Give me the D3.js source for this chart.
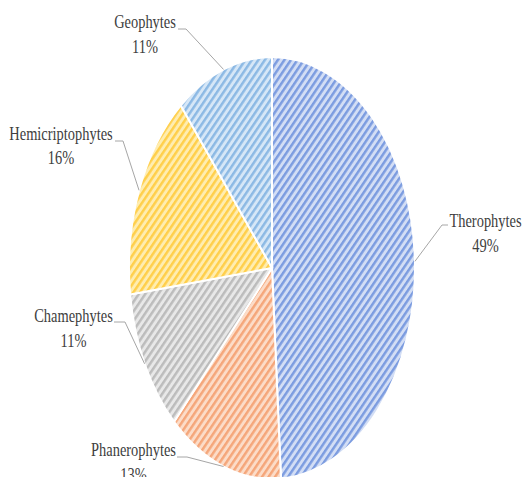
<!DOCTYPE html>
<html>
<head>
<meta charset="utf-8">
<script src="https://cdn.jsdelivr.net/npm/d3@7"></script>
<style>
  html, body { margin: 0; padding: 0; background: #fff; }
  svg { display: block; }
</style>
</head>
<body>
<svg id="chart" width="522" height="477"></svg>
<script>
// ---- data ----
const categories = ["Therophytes", "Phanerophytes", "Chamephytes", "Hemicriptophytes", "Geophytes"];
const values = [49, 13, 11, 16, 11];
const labels = ["49%", "13%", "11%", "16%", "11%"];
const stripeColors = ["#7c9ce0", "#f5a67a", "#bcbcbc", "#ffcf4a", "#8cb9e4"];
const bgColors = ["#d3def5", "#fcdcc8", "#e8e8e8", "#ffedb0", "#d6e7f7"];

// ---- layout ----
const W = 522, H = 477;
const cx = 272, cy = 268, rx = 143, ry = 211;
// label anchor (center x, first baseline) and elbow x of leader
const labelPos = [
  { x: 485.5, y: 227, elbow: 442, lineStart: 448, lineY: 225 },
  { x: 133.5, y: 456, elbow: 187, lineStart: 177, lineY: 457 },
  { x: 73.5,  y: 322, elbow: 125, lineStart: 114, lineY: 322 },
  { x: 61,    y: 139.5, elbow: 123, lineStart: 115, lineY: 141 },
  { x: 145,   y: 28,  elbow: 186, lineStart: 178, lineY: 29 }
];

const svg = d3.select("#chart");
const defs = svg.append("defs");
const sy = ry / rx;

categories.forEach((c, i) => {
  const p = defs.append("pattern")
    .attr("id", "pat" + i)
    .attr("patternUnits", "userSpaceOnUse")
    .attr("width", 4.6).attr("height", 4.6)
    .attr("patternTransform", "rotate(45)");
  p.append("rect").attr("width", 4.6).attr("height", 4.6).attr("fill", bgColors[i]);
  p.append("rect").attr("width", 2.1).attr("height", 4.6).attr("fill", stripeColors[i]);
});

const pie = d3.pie().sort(null).value(d => d)(values);
const arc = d3.arc().innerRadius(0).outerRadius(rx);

const g = svg.append("g").attr("transform", `translate(${cx},${cy}) scale(1,${sy})`);
g.selectAll("path").data(pie).join("path")
  .attr("d", arc)
  .attr("fill", (d, i) => `url(#pat${i})`)
  .attr("stroke", "#fff")
  .attr("stroke-width", 2)
  .attr("vector-effect", "non-scaling-stroke");

// leader lines
const lines = svg.append("g");
pie.forEach((d, i) => {
  const a = (d.startAngle + d.endAngle) / 2;
  const ex = cx + rx * Math.sin(a);
  const ey = cy - ry * Math.cos(a);
  const L = labelPos[i];
  lines.append("polyline")
    .attr("points", `${L.lineStart},${L.lineY} ${L.elbow},${L.lineY} ${ex},${ey}`)
    .attr("fill", "none")
    .attr("stroke", "#a6a6a6")
    .attr("stroke-width", 1);
});

// labels
const lab = svg.append("g");
categories.forEach((c, i) => {
  const L = labelPos[i];
  const t = lab.append("g").attr("transform", `translate(${L.x},${L.y}) scale(0.76,1)`);
  t.append("text").attr("text-anchor", "middle")
    .attr("font-family", "'Liberation Serif', 'Times New Roman', serif")
    .attr("font-size", 19).attr("fill", "#404040")
    .text(c);
  t.append("text").attr("text-anchor", "middle").attr("y", 25)
    .attr("font-family", "'Liberation Serif', 'Times New Roman', serif")
    .attr("font-size", 19).attr("fill", "#404040")
    .text(labels[i]);
});
</script>
</body>
</html>
